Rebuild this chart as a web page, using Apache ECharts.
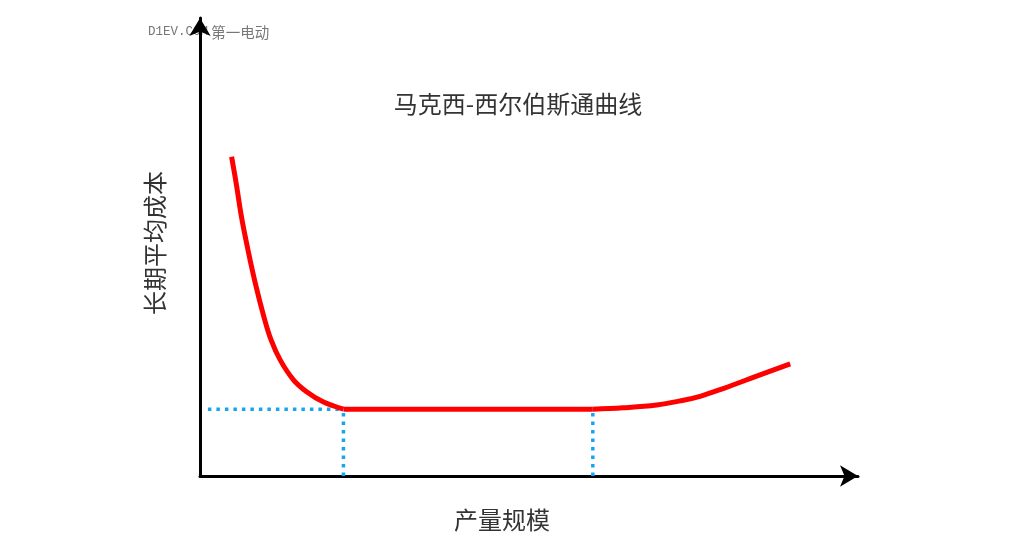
<!DOCTYPE html>
<html>
<head>
<meta charset="utf-8">
<script src="https://cdn.jsdelivr.net/npm/echarts@6/dist/echarts.min.js"></script>
<style>
html,body{margin:0;padding:0;background:#fff;}
#main{width:1019px;height:548px;}
</style>
</head>
<body>
<div id="main"></div>
<script>
// ---- data (scale 0-100 on both axes) ----
var titleText = '马克西-西尔伯斯通曲线';
var xAxisName = '产量规模';
var yAxisName = '长期平均成本';
var watermarkLatin = 'D1EV.COM';
var watermarkCJK = '第一电动';

// declining part of the long-run average cost curve
var declineScale = [4.8, 5.5, 6.3, 7.3, 8.4, 9.7, 10.8, 12.2, 14.2, 16.2, 18.7, 21.8];
var declineCost  = [69.7, 63.9, 56.6, 49.3, 42.1, 34.8, 29.7, 25.3, 21.0, 18.4, 16.2, 14.6];
// flat bottom
var flatScale = [21.8, 59.7];
var flatCost  = [14.6, 14.6];
// rising part
var riseScale = [59.7, 64.3, 69.4, 73.0, 76.0, 79.5, 84.6, 89.7];
var riseCost  = [14.6, 14.9, 15.5, 16.4, 17.4, 19.1, 21.8, 24.5];
// guide lines
var guideStartScale = 1.2;
var minEfficientScale = 21.8;
var maxEfficientScale = 59.7;
var minCost = 14.6;

function pairs(xs, ys) { return xs.map(function (x, i) { return [x, ys[i]]; }); }

var chart = echarts.init(document.getElementById('main'));
var red = '#ff0000';
var blue = '#16a6ee';
var guideStyle = { color: blue, width: 3.5, type: [3.5, 5], cap: 'butt' };

var option = {
  animation: false,
  backgroundColor: '#ffffff',
  grid: { left: 200, top: 18, right: 161, bottom: 72 },
  xAxis: {
    type: 'value', min: 0, max: 100,
    axisLine: { show: true, onZero: false, symbol: ['none', 'arrow'], symbolSize: [16, 18],
      lineStyle: { color: '#000', width: 3 } },
    axisTick: { show: false }, axisLabel: { show: false }, splitLine: { show: false }
  },
  yAxis: {
    type: 'value', min: 0, max: 100,
    axisLine: { show: true, onZero: false, symbol: ['none', 'arrow'], symbolSize: [16, 18],
      lineStyle: { color: '#000', width: 3 } },
    axisTick: { show: false }, axisLabel: { show: false }, splitLine: { show: false }
  },
  graphic: [
    { type: 'text', x: 518, y: 104, z: 10,
      style: { text: titleText, align: 'center', verticalAlign: 'middle',
        font: '24px "Noto Sans CJK SC"', fill: '#333' } },
    { type: 'text', x: 502, y: 520, z: 10,
      style: { text: xAxisName, align: 'center', verticalAlign: 'middle',
        font: '24px "Noto Sans CJK SC"', fill: '#333' } },
    { type: 'text', x: 155, y: 243, rotation: Math.PI / 2, z: 10,
      style: { text: yAxisName, align: 'center', verticalAlign: 'middle',
        font: '24px "Noto Sans CJK SC"', fill: '#333' } },
    { type: 'text', x: 148, y: 32, z: -10,
      style: { text: '{a|' + watermarkLatin + '} {b|' + watermarkCJK + '}',
        align: 'left', verticalAlign: 'middle',
        rich: {
          a: { fontFamily: 'Liberation Mono', fontSize: 12.5, fill: '#777', color: '#777' },
          b: { fontFamily: 'Noto Sans CJK SC', fontSize: 14.5, fill: '#777', color: '#777' }
        } } }
  ],
  series: [
    { type: 'line', name: 'guide-h', data: [[guideStartScale, minCost], [minEfficientScale, minCost]],
      showSymbol: false, lineStyle: guideStyle, z: 1 },
    { type: 'line', name: 'guide-v1', data: [[minEfficientScale, 0], [minEfficientScale, minCost]],
      showSymbol: false, lineStyle: guideStyle, z: 1 },
    { type: 'line', name: 'guide-v2', data: [[maxEfficientScale, 0], [maxEfficientScale, minCost]],
      showSymbol: false, lineStyle: guideStyle, z: 1 },
    { type: 'line', name: 'decline', data: pairs(declineScale, declineCost), smooth: 0.4,
      showSymbol: false, lineStyle: { color: red, width: 5 }, z: 3 },
    { type: 'line', name: 'flat', data: pairs(flatScale, flatCost),
      showSymbol: false, lineStyle: { color: red, width: 5 }, z: 3 },
    { type: 'line', name: 'rise', data: pairs(riseScale, riseCost), smooth: 0.4,
      showSymbol: false, lineStyle: { color: red, width: 5 }, z: 3 }
  ]
};
chart.setOption(option);
</script>
</body>
</html>
